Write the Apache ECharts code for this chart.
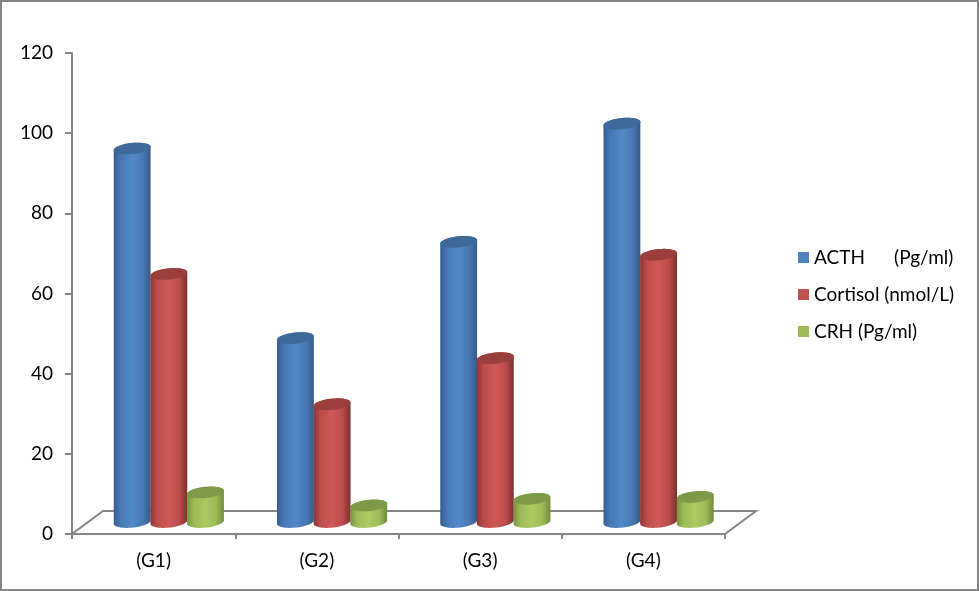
<!DOCTYPE html>
<html>
<head>
<meta charset="utf-8">
<style>html,body{margin:0;padding:0;background:#fff}#c{width:979px;height:591px}</style>
<script src="https://cdn.jsdelivr.net/npm/echarts@6/dist/echarts.min.js"></script>
</head>
<body>
<div id="c"></div>
<script>
const categories = ['(G1)', '(G2)', '(G3)', '(G4)'];
const acth = [93.3, 46, 70, 99.5];
const cortisol = [62, 29.5, 41, 66.8];
const crh = [7.5, 4.25, 5.9, 6.4];
const seriesNames = ['ACTH      (Pg/ml)', 'Cortisol (nmol/L)', 'CRH (Pg/ml)'];
const seriesValues = [acth, cortisol, crh];
const palette = [
  { base: '#4f81bd', edgeL: '#335f92', mid: '#4878b4', light: '#5288ca', edgeR: '#365c87', top: '#3e6a9a' },
  { base: '#c0504d', edgeL: '#8c3634', mid: '#bb4d4b', light: '#cf5856', edgeR: '#7d2f2d', top: '#9a3f3c' },
  { base: '#9bbb59', edgeL: '#769240', mid: '#9bbc58', light: '#a9cb60', edgeR: '#6f8a3c', top: '#7c9a48' }
];
const DEPTH_X = 31, DEPTH_Y = -23, TILT = -6 * Math.PI / 180, RY = 5.6;

function ellipsePoint(cx, cy, rx, ry, t) {
  const x = rx * Math.cos(t), y = ry * Math.sin(t);
  return [cx + x * Math.cos(TILT) - y * Math.sin(TILT), cy + x * Math.sin(TILT) + y * Math.cos(TILT)];
}
function cylinder(seriesIndex) {
  return function (params, api) {
    const cat = api.value(0), val = api.value(1);
    const w = api.size([1, 0])[0];
    const rx = w * 0.1135;
    const off = (seriesIndex - 1) * w * 0.2245;
    const base = api.coord([cat, 0]), top = api.coord([cat, val]);
    const cx = base[0] + DEPTH_X / 2 + off - 0.3;
    const by = base[1] + DEPTH_Y / 2 - 0.5, ty = top[1] + DEPTH_Y / 2;
    const pts = [];
    const N = 40;
    for (let i = 0; i <= N; i++) pts.push(ellipsePoint(cx, by, rx, RY, Math.PI - Math.PI * i / N));
    for (let i = 0; i <= N; i++) pts.push(ellipsePoint(cx, ty, rx, RY, -Math.PI * i / N));
    const topPts = [];
    for (let i = 0; i < 2 * N; i++) topPts.push(ellipsePoint(cx, ty, rx, RY, Math.PI * i / N));
    const p = palette[seriesIndex];
    return {
      type: 'group',
      children: [
        { type: 'polygon', shape: { points: pts }, style: {
            fill: new echarts.graphic.LinearGradient(0, 0, 1, 0, [
              { offset: 0, color: p.edgeL }, { offset: 0.18, color: p.mid }, { offset: 0.5, color: p.light },
              { offset: 0.78, color: p.mid }, { offset: 1, color: p.edgeR }
            ]) } },
        { type: 'polygon', shape: { points: topPts }, style: { fill: p.top } }
      ]
    };
  };
}
function floor(params, api) {
  const w = api.size([1, 0])[0];
  const a = api.coord([0, 0]), b = api.coord([categories.length - 1, 0]);
  const x0 = a[0] - w / 2, x1 = b[0] + w / 2, y = a[1];
  return { type: 'polyline', shape: { points: [[x0, y], [x0 + DEPTH_X, y + DEPTH_Y], [x1 + DEPTH_X, y + DEPTH_Y], [x1, y]] },
    style: { fill: null, stroke: '#868686', lineWidth: 2 } };
}
const chart = echarts.init(document.getElementById('c'), null, { renderer: 'canvas' });
const font = 'Lato';
chart.setOption({
  animation: false,
  backgroundColor: '#fff',
  graphic: [{ type: 'rect', shape: { x: 0, y: 0, width: 979, height: 591 }, style: { fill: null, stroke: '#868686', lineWidth: 4 }, z: 100 }],
  grid: { left: 72, top: 53, width: 653, height: 481 },
  legend: {
    orient: 'vertical', left: 793, top: 243, itemWidth: 11, itemHeight: 11, itemGap: 18, icon: 'rect',
    textStyle: { fontFamily: font, fontSize: 19, color: '#000' },
    data: seriesNames
  },
  xAxis: {
    type: 'category', data: categories, boundaryGap: true,
    axisLine: { lineStyle: { color: '#868686', width: 2 } },
    axisTick: { show: true, alignWithLabel: false, interval: 0, length: 5, lineStyle: { color: '#868686', width: 2 } },
    axisLabel: { fontFamily: font, fontSize: 19, color: '#000', margin: 17 }
  },
  yAxis: {
    type: 'value', min: 0, max: 120, interval: 20,
    axisLine: { show: true, lineStyle: { color: '#868686', width: 2 } },
    axisTick: { show: true, length: 7, lineStyle: { color: '#868686', width: 2 } },
    splitLine: { show: false },
    axisLabel: { fontFamily: font, fontSize: 19, color: '#000', margin: 19, padding: [6, 0, 0, 0] }
  },
  series: [
    { type: 'custom', silent: true, renderItem: floor, data: [[0, 0]], z: 1, clip: false, encode: { x: 0, y: 1 } }
  ].concat(seriesNames.map((name, i) => ({
    type: 'custom', name, z: 2 + i, clip: false,
    itemStyle: { color: palette[i].base },
    renderItem: cylinder(i),
    encode: { x: 0, y: 1 },
    data: seriesValues[i].map((v, k) => [k, v])
  })))
});
</script>
</body>
</html>
